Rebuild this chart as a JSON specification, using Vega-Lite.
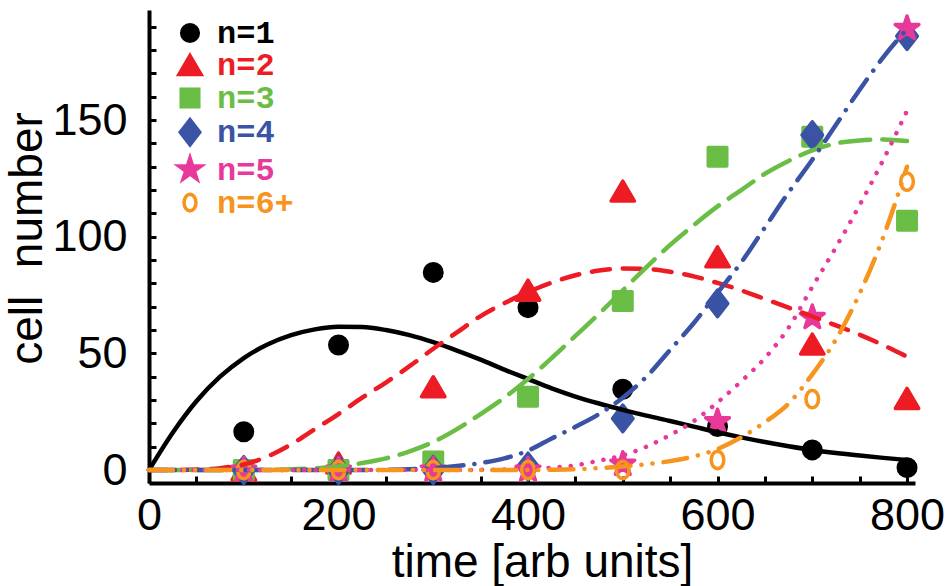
{
  "$schema": "https://vega.github.io/schema/vega-lite/v6.json",
  "width": 766,
  "height": 473,
  "autosize": {"type": "none"},
  "padding": {"left": 149, "top": 10, "right": 31, "bottom": 103},
  "background": "white",
  "config": {
    "view": {"stroke": null},
    "font": "Liberation Sans",
    "axis": {
      "grid": false,
      "domainColor": "black",
      "domainWidth": 4,
      "tickColor": "black",
      "tickWidth": 3,
      "tickSize": -7,
      "labelFont": "Liberation Sans",
      "labelFontSize": 45,
      "labelColor": "black",
      "labelFlush": false,
      "titleFont": "Liberation Sans",
      "titleFontSize": 46,
      "titleFontWeight": "normal",
      "titleColor": "black"
    },
    "line": {"strokeWidth": 4.5, "strokeCap": "round", "interpolate": "monotone"}
  },
  "datasets": {
    "pts": [
      {"s": "n=1", "t": 100, "v": 16.4}, {"s": "n=1", "t": 200, "v": 53.6}, {"s": "n=1", "t": 300, "v": 84.7}, {"s": "n=1", "t": 400, "v": 69.6},
      {"s": "n=1", "t": 500, "v": 34.6}, {"s": "n=1", "t": 600, "v": 18.6}, {"s": "n=1", "t": 700, "v": 8.6}, {"s": "n=1", "t": 800, "v": 1.0},
      {"s": "n=2", "t": 100, "v": 0}, {"s": "n=2", "t": 200, "v": 3}, {"s": "n=2", "t": 300, "v": 35.7}, {"s": "n=2", "t": 400, "v": 77.1},
      {"s": "n=2", "t": 500, "v": 119.6}, {"s": "n=2", "t": 600, "v": 91.4}, {"s": "n=2", "t": 700, "v": 54}, {"s": "n=2", "t": 800, "v": 30.7},
      {"s": "n=3", "t": 100, "v": 0}, {"s": "n=3", "t": 200, "v": 0}, {"s": "n=3", "t": 300, "v": 3.6}, {"s": "n=3", "t": 400, "v": 31.4},
      {"s": "n=3", "t": 500, "v": 72.4}, {"s": "n=3", "t": 600, "v": 134.3}, {"s": "n=3", "t": 700, "v": 142.9}, {"s": "n=3", "t": 800, "v": 106.9},
      {"s": "n=4", "t": 100, "v": 0}, {"s": "n=4", "t": 200, "v": 0}, {"s": "n=4", "t": 300, "v": 0}, {"s": "n=4", "t": 400, "v": 1.5},
      {"s": "n=4", "t": 500, "v": 22.1}, {"s": "n=4", "t": 600, "v": 71.4}, {"s": "n=4", "t": 700, "v": 143.6}, {"s": "n=4", "t": 800, "v": 186},
      {"s": "n=5", "t": 100, "v": 0}, {"s": "n=5", "t": 200, "v": 0}, {"s": "n=5", "t": 300, "v": 0}, {"s": "n=5", "t": 400, "v": 0},
      {"s": "n=5", "t": 500, "v": 2.5}, {"s": "n=5", "t": 600, "v": 20.7}, {"s": "n=5", "t": 700, "v": 65.4}, {"s": "n=5", "t": 800, "v": 189.3},
      {"s": "n=6+", "t": 100, "v": 0}, {"s": "n=6+", "t": 200, "v": 0}, {"s": "n=6+", "t": 300, "v": 0}, {"s": "n=6+", "t": 400, "v": 0},
      {"s": "n=6+", "t": 500, "v": 0}, {"s": "n=6+", "t": 600, "v": 4.3}, {"s": "n=6+", "t": 700, "v": 30.4}, {"s": "n=6+", "t": 800, "v": 123.6}
    ],
    "curves": [
      {"s": "n=1", "t": 0, "v": 0}, {"s": "n=1", "t": 25, "v": 16}, {"s": "n=1", "t": 50, "v": 29.5}, {"s": "n=1", "t": 75, "v": 40},
      {"s": "n=1", "t": 100, "v": 48}, {"s": "n=1", "t": 125, "v": 53.8}, {"s": "n=1", "t": 150, "v": 57.8}, {"s": "n=1", "t": 175, "v": 60.3},
      {"s": "n=1", "t": 200, "v": 61.4}, {"s": "n=1", "t": 225, "v": 61.3}, {"s": "n=1", "t": 250, "v": 60}, {"s": "n=1", "t": 275, "v": 57.8},
      {"s": "n=1", "t": 300, "v": 54.8}, {"s": "n=1", "t": 325, "v": 51.2}, {"s": "n=1", "t": 350, "v": 47.3}, {"s": "n=1", "t": 375, "v": 43},
      {"s": "n=1", "t": 400, "v": 39}, {"s": "n=1", "t": 425, "v": 35}, {"s": "n=1", "t": 450, "v": 31.5}, {"s": "n=1", "t": 475, "v": 28.5},
      {"s": "n=1", "t": 500, "v": 25.8}, {"s": "n=1", "t": 525, "v": 23.3}, {"s": "n=1", "t": 550, "v": 21}, {"s": "n=1", "t": 575, "v": 18.6},
      {"s": "n=1", "t": 600, "v": 16.2}, {"s": "n=1", "t": 625, "v": 14}, {"s": "n=1", "t": 650, "v": 12}, {"s": "n=1", "t": 675, "v": 10.2},
      {"s": "n=1", "t": 700, "v": 8.6}, {"s": "n=1", "t": 725, "v": 7.3}, {"s": "n=1", "t": 750, "v": 6.2}, {"s": "n=1", "t": 775, "v": 5.2},
      {"s": "n=1", "t": 800, "v": 4.3},
      {"s": "n=2", "t": 0, "v": 0}, {"s": "n=2", "t": 25, "v": 0}, {"s": "n=2", "t": 50, "v": 0.2}, {"s": "n=2", "t": 75, "v": 0.8},
      {"s": "n=2", "t": 100, "v": 2.4}, {"s": "n=2", "t": 125, "v": 5.8}, {"s": "n=2", "t": 150, "v": 11}, {"s": "n=2", "t": 175, "v": 17.5},
      {"s": "n=2", "t": 200, "v": 24}, {"s": "n=2", "t": 225, "v": 31}, {"s": "n=2", "t": 250, "v": 37.5}, {"s": "n=2", "t": 275, "v": 44.5},
      {"s": "n=2", "t": 300, "v": 52}, {"s": "n=2", "t": 325, "v": 59}, {"s": "n=2", "t": 350, "v": 66}, {"s": "n=2", "t": 375, "v": 71.5},
      {"s": "n=2", "t": 400, "v": 76.3}, {"s": "n=2", "t": 425, "v": 80.3}, {"s": "n=2", "t": 450, "v": 83.5}, {"s": "n=2", "t": 475, "v": 85.5},
      {"s": "n=2", "t": 500, "v": 86.4}, {"s": "n=2", "t": 525, "v": 86.2}, {"s": "n=2", "t": 550, "v": 85}, {"s": "n=2", "t": 575, "v": 83},
      {"s": "n=2", "t": 600, "v": 80.2}, {"s": "n=2", "t": 625, "v": 77}, {"s": "n=2", "t": 650, "v": 73.3}, {"s": "n=2", "t": 675, "v": 69.6},
      {"s": "n=2", "t": 700, "v": 65.8}, {"s": "n=2", "t": 725, "v": 62}, {"s": "n=2", "t": 750, "v": 58}, {"s": "n=2", "t": 775, "v": 53.5},
      {"s": "n=2", "t": 800, "v": 48.6},
      {"s": "n=3", "t": 0, "v": 0}, {"s": "n=3", "t": 25, "v": 0}, {"s": "n=3", "t": 50, "v": 0}, {"s": "n=3", "t": 75, "v": 0},
      {"s": "n=3", "t": 100, "v": 0}, {"s": "n=3", "t": 125, "v": 0.1}, {"s": "n=3", "t": 150, "v": 0.3}, {"s": "n=3", "t": 175, "v": 0.7},
      {"s": "n=3", "t": 200, "v": 1.5}, {"s": "n=3", "t": 225, "v": 3}, {"s": "n=3", "t": 250, "v": 5}, {"s": "n=3", "t": 275, "v": 8},
      {"s": "n=3", "t": 300, "v": 12}, {"s": "n=3", "t": 325, "v": 17.5}, {"s": "n=3", "t": 350, "v": 24}, {"s": "n=3", "t": 375, "v": 31},
      {"s": "n=3", "t": 400, "v": 39}, {"s": "n=3", "t": 425, "v": 48}, {"s": "n=3", "t": 450, "v": 57.5}, {"s": "n=3", "t": 475, "v": 67},
      {"s": "n=3", "t": 500, "v": 77}, {"s": "n=3", "t": 525, "v": 87}, {"s": "n=3", "t": 550, "v": 96.5}, {"s": "n=3", "t": 575, "v": 105},
      {"s": "n=3", "t": 600, "v": 113}, {"s": "n=3", "t": 625, "v": 120}, {"s": "n=3", "t": 650, "v": 127}, {"s": "n=3", "t": 675, "v": 132.5},
      {"s": "n=3", "t": 700, "v": 137}, {"s": "n=3", "t": 725, "v": 140}, {"s": "n=3", "t": 750, "v": 141.3}, {"s": "n=3", "t": 775, "v": 141.7},
      {"s": "n=3", "t": 800, "v": 141},
      {"s": "n=4", "t": 0, "v": 0}, {"s": "n=4", "t": 25, "v": 0}, {"s": "n=4", "t": 50, "v": 0}, {"s": "n=4", "t": 75, "v": 0},
      {"s": "n=4", "t": 100, "v": 0}, {"s": "n=4", "t": 125, "v": 0}, {"s": "n=4", "t": 150, "v": 0}, {"s": "n=4", "t": 175, "v": 0},
      {"s": "n=4", "t": 200, "v": 0}, {"s": "n=4", "t": 225, "v": 0}, {"s": "n=4", "t": 250, "v": 0.1}, {"s": "n=4", "t": 275, "v": 0.3},
      {"s": "n=4", "t": 300, "v": 0.8}, {"s": "n=4", "t": 325, "v": 1.7}, {"s": "n=4", "t": 350, "v": 3}, {"s": "n=4", "t": 375, "v": 5},
      {"s": "n=4", "t": 400, "v": 8.3}, {"s": "n=4", "t": 425, "v": 13.5}, {"s": "n=4", "t": 450, "v": 18.5}, {"s": "n=4", "t": 475, "v": 24},
      {"s": "n=4", "t": 500, "v": 31}, {"s": "n=4", "t": 525, "v": 40}, {"s": "n=4", "t": 550, "v": 51.5}, {"s": "n=4", "t": 575, "v": 63},
      {"s": "n=4", "t": 600, "v": 76}, {"s": "n=4", "t": 625, "v": 89}, {"s": "n=4", "t": 650, "v": 104}, {"s": "n=4", "t": 675, "v": 119},
      {"s": "n=4", "t": 700, "v": 133}, {"s": "n=4", "t": 725, "v": 148}, {"s": "n=4", "t": 750, "v": 163}, {"s": "n=4", "t": 775, "v": 177},
      {"s": "n=4", "t": 800, "v": 189},
      {"s": "n=5", "t": 0, "v": 0}, {"s": "n=5", "t": 25, "v": 0}, {"s": "n=5", "t": 50, "v": 0}, {"s": "n=5", "t": 75, "v": 0},
      {"s": "n=5", "t": 100, "v": 0}, {"s": "n=5", "t": 125, "v": 0}, {"s": "n=5", "t": 150, "v": 0}, {"s": "n=5", "t": 175, "v": 0},
      {"s": "n=5", "t": 200, "v": 0}, {"s": "n=5", "t": 225, "v": 0}, {"s": "n=5", "t": 250, "v": 0}, {"s": "n=5", "t": 275, "v": 0},
      {"s": "n=5", "t": 300, "v": 0}, {"s": "n=5", "t": 325, "v": 0}, {"s": "n=5", "t": 350, "v": 0.1}, {"s": "n=5", "t": 375, "v": 0.2},
      {"s": "n=5", "t": 400, "v": 0.5}, {"s": "n=5", "t": 425, "v": 1}, {"s": "n=5", "t": 450, "v": 2}, {"s": "n=5", "t": 475, "v": 4},
      {"s": "n=5", "t": 500, "v": 6.3}, {"s": "n=5", "t": 525, "v": 10}, {"s": "n=5", "t": 550, "v": 15}, {"s": "n=5", "t": 575, "v": 21},
      {"s": "n=5", "t": 600, "v": 29}, {"s": "n=5", "t": 625, "v": 38}, {"s": "n=5", "t": 650, "v": 48}, {"s": "n=5", "t": 675, "v": 61},
      {"s": "n=5", "t": 700, "v": 78.5}, {"s": "n=5", "t": 725, "v": 95.5}, {"s": "n=5", "t": 750, "v": 113.6}, {"s": "n=5", "t": 775, "v": 133},
      {"s": "n=5", "t": 800, "v": 154},
      {"s": "n=6+", "t": 0, "v": 0}, {"s": "n=6+", "t": 25, "v": 0}, {"s": "n=6+", "t": 50, "v": 0}, {"s": "n=6+", "t": 75, "v": 0},
      {"s": "n=6+", "t": 100, "v": 0}, {"s": "n=6+", "t": 125, "v": 0}, {"s": "n=6+", "t": 150, "v": 0}, {"s": "n=6+", "t": 175, "v": 0},
      {"s": "n=6+", "t": 200, "v": 0}, {"s": "n=6+", "t": 225, "v": 0}, {"s": "n=6+", "t": 250, "v": 0}, {"s": "n=6+", "t": 275, "v": 0},
      {"s": "n=6+", "t": 300, "v": 0}, {"s": "n=6+", "t": 325, "v": 0}, {"s": "n=6+", "t": 350, "v": 0}, {"s": "n=6+", "t": 375, "v": 0},
      {"s": "n=6+", "t": 400, "v": 0}, {"s": "n=6+", "t": 425, "v": 0.1}, {"s": "n=6+", "t": 450, "v": 0.3}, {"s": "n=6+", "t": 475, "v": 0.8},
      {"s": "n=6+", "t": 500, "v": 1.5}, {"s": "n=6+", "t": 525, "v": 2.5}, {"s": "n=6+", "t": 550, "v": 3.8}, {"s": "n=6+", "t": 575, "v": 5.8},
      {"s": "n=6+", "t": 600, "v": 9}, {"s": "n=6+", "t": 625, "v": 14}, {"s": "n=6+", "t": 650, "v": 20.5}, {"s": "n=6+", "t": 675, "v": 28.5},
      {"s": "n=6+", "t": 700, "v": 41}, {"s": "n=6+", "t": 725, "v": 56}, {"s": "n=6+", "t": 750, "v": 75.7}, {"s": "n=6+", "t": 775, "v": 100},
      {"s": "n=6+", "t": 800, "v": 130}
    ]
  },
  "resolve": {"axis": {"x": "independent", "y": "independent"}},
  "layer": [
    {
      "data": {"name": "pts"},
      "mark": {"type": "point", "filled": true, "opacity": 1, "size": 400, "strokeWidth": 3.5, "strokeJoin": "round"},
      "encoding": {
        "x": {
          "field": "t", "type": "quantitative",
          "scale": {"domain": [0, 808.4], "nice": false, "zero": false},
          "axis": {
            "orient": "bottom",
            "values": [0, 200, 400, 600, 800],
            "ticks": false,
            "domain": false,
            "labelPadding": 10,
            "title": "time [arb units]",
            "titlePadding": 2,
            "titleX": 393
          }
        },
        "y": {
          "field": "v", "type": "quantitative",
          "scale": {"domain": [-5.57, 197.2], "nice": false, "zero": false},
          "axis": {
            "orient": "left",
            "values": [0, 50, 100, 150],
            "ticks": false,
            "domain": false,
            "labelPadding": 22,
            "title": "cell\u2009\u2009\u2009number",
            "titleFontSize": 46,
            "titleY": 228,
            "titlePadding": 0
          }
        },
        "shape": {
          "field": "s", "type": "nominal",
          "scale": {
            "domain": ["n=1", "n=2", "n=3", "n=4", "n=5", "n=6+"],
            "range": [
              "M-0.875,0A0.875,0.875 0 1,0 0.875,0A0.875,0.875 0 1,0 -0.875,0Z",
              "M0,-1.0L1.17,1.0L-1.17,1.0Z",
              "M-0.925,-0.925H0.925V0.925H-0.925Z",
              "M0,-1.33L1.03,0L0,1.33L-1.03,0Z",
              "M0,-1.25L0.281,-0.386L1.189,-0.386L0.454,0.148L0.735,1.011L0,0.478L-0.735,1.011L-0.454,0.148L-1.189,-0.386L-0.281,-0.386Z",
              "M0,-0.875L0.241,-0.808L0.445,-0.619L0.582,-0.335L0.63,0L0.582,0.335L0.445,0.619L0.241,0.808L0,0.875L-0.241,0.808L-0.445,0.619L-0.582,0.335L-0.63,0L-0.582,-0.335L-0.445,-0.619L-0.241,-0.808Z"
            ]
          },
          "legend": {
            "title": null,
            "orient": "none",
            "legendX": 25,
            "legendY": 7,
            "padding": 0,
            "rowPadding": -1.7,
            "symbolSize": 360,
            "symbolStrokeWidth": 3.5,
            "labelOffset": 11,
            "labelFont": "Liberation Mono",
            "labelFontWeight": "bold",
            "labelFontSize": 32,
            "labelLimit": 300,
            "labelColor": {"expr": "datum.value === 'n=2' ? '#ED1C24' : datum.value === 'n=3' ? '#6ABD45' : datum.value === 'n=4' ? '#3A53A4' : datum.value === 'n=5' ? '#E8399A' : datum.value === 'n=6+' ? '#F7941D' : '#000000'"}
          }
        },
        "fill": {
          "field": "s", "type": "nominal",
          "scale": {
            "domain": ["n=1", "n=2", "n=3", "n=4", "n=5", "n=6+"],
            "range": ["#000000", "#ED1C24", "#6ABD45", "#3A53A4", "#E8399A", "transparent"]
          },
          "legend": null
        },
        "stroke": {
          "field": "s", "type": "nominal",
          "scale": {
            "domain": ["n=1", "n=2", "n=3", "n=4", "n=5", "n=6+"],
            "range": ["#000000", "#ED1C24", "#6ABD45", "#3A53A4", "#E8399A", "#F7941D"]
          },
          "legend": null
        }
      }
    },
    {
      "data": {"name": "curves"},
      "transform": [{"filter": "datum.s === 'n=1'"}],
      "mark": {"type": "line", "color": "#000000"},
      "encoding": {
        "x": {
          "field": "t", "type": "quantitative",
          "axis": {
            "orient": "bottom",
            "values": [0, 50, 100, 150, 200, 250, 300, 350, 400, 450, 500, 550, 600, 650, 700, 750, 800],
            "labels": false,
            "title": null
          }
        },
        "y": {
          "field": "v", "type": "quantitative",
          "axis": {
            "orient": "left",
            "values": [0, 10, 20, 30, 40, 50, 60, 70, 80, 90, 100, 110, 120, 130, 140, 150, 160, 170, 180, 190],
            "labels": false,
            "title": null
          }
        }
      }
    },
    {
      "data": {"name": "curves"},
      "transform": [{"filter": "datum.s === 'n=2'"}],
      "mark": {"type": "line", "color": "#ED1C24", "strokeDash": [18, 13]},
      "encoding": {
        "x": {"field": "t", "type": "quantitative", "axis": null},
        "y": {"field": "v", "type": "quantitative", "axis": null}
      }
    },
    {
      "data": {"name": "curves"},
      "transform": [{"filter": "datum.s === 'n=3'"}],
      "mark": {"type": "line", "color": "#6ABD45", "strokeDash": [30, 12]},
      "encoding": {
        "x": {"field": "t", "type": "quantitative", "axis": null},
        "y": {"field": "v", "type": "quantitative", "axis": null}
      }
    },
    {
      "data": {"name": "curves"},
      "transform": [{"filter": "datum.s === 'n=4'"}],
      "mark": {"type": "line", "color": "#3A53A4", "strokeDash": [26, 11, 0.1, 11]},
      "encoding": {
        "x": {"field": "t", "type": "quantitative", "axis": null},
        "y": {"field": "v", "type": "quantitative", "axis": null}
      }
    },
    {
      "data": {"name": "curves"},
      "transform": [{"filter": "datum.s === 'n=5'"}],
      "mark": {"type": "line", "color": "#E8399A", "strokeDash": [0.1, 11]},
      "encoding": {
        "x": {"field": "t", "type": "quantitative", "axis": null},
        "y": {"field": "v", "type": "quantitative", "axis": null}
      }
    },
    {
      "data": {"name": "curves"},
      "transform": [{"filter": "datum.s === 'n=6+'"}],
      "mark": {"type": "line", "color": "#F7941D", "strokeDash": [24, 11, 0.1, 11, 0.1, 11]},
      "encoding": {
        "x": {"field": "t", "type": "quantitative", "axis": null},
        "y": {"field": "v", "type": "quantitative", "axis": null}
      }
    }
  ]
}
